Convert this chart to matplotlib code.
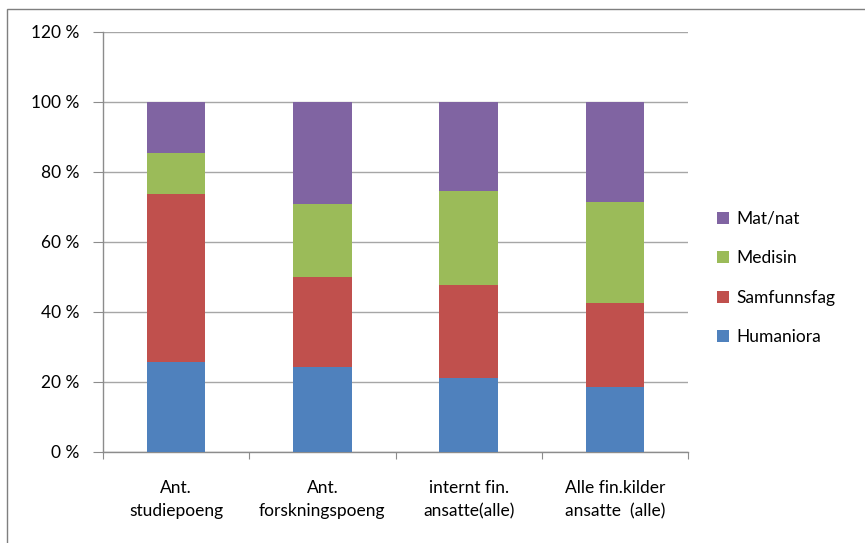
import matplotlib
matplotlib.use("Agg")
import matplotlib.pyplot as plt
from matplotlib.patches import Rectangle
from matplotlib.ticker import FuncFormatter
import numpy as np

categories = ["Ant.\nstudiepoeng", "Ant.\nforskningspoeng", "internt fin.\nansatte(alle)", "Alle fin.kilder\nansatte  (alle)"]
humaniora = [25.8, 24.4, 21.2, 18.5]
samfunnsfag = [47.9, 25.6, 26.5, 24.2]
medisin = [11.6, 20.9, 27.0, 28.6]
matnat = [14.7, 29.1, 25.3, 28.7]
series_names = ["Humaniora", "Samfunnsfag", "Medisin", "Mat/nat"]
colors = ["#4F81BD", "#C0504D", "#9BBB59", "#8064A2"]

plt.rcParams['font.family'] = ['Lato', 'DejaVu Sans']
FS = 12.5

W, H = 865, 543
fig = plt.figure(figsize=(W / 100, H / 100), dpi=100)
fig.patch.set_facecolor("white")

# outer chart border
fig.add_artist(Rectangle((7 / W, -0.05), 1.2, (H - 9) / H + 0.05, transform=fig.transFigure,
                         fill=False, edgecolor="#7F7F7F", linewidth=1.0))

left, right, top, bottom = 103, 688, 32, 452
ax = fig.add_axes([left / W, (H - bottom) / H, (right - left) / W, (bottom - top) / H])

x = np.arange(len(categories))
data = [humaniora, samfunnsfag, medisin, matnat]
base = np.zeros(len(categories))
handles = []
for vals, c, name in zip(data, colors, series_names):
    b = ax.bar(x, vals, width=0.4, bottom=base, color=c, label=name, zorder=3)
    handles.append(b)
    base += np.array(vals)

ax.set_xlim(-0.5, len(categories) - 0.5)
ax.set_ylim(0, 120)
ax.set_yticks(np.arange(0, 121, 20))
ax.yaxis.set_major_formatter(FuncFormatter(lambda v, p: f"{int(v)} %"))
ax.grid(axis="y", color="#A6A6A6", linewidth=1.0, zorder=0)
ax.set_axisbelow(True)

ax.set_xticks(np.arange(-0.5, len(categories), 1.0))
ax.set_xticklabels([])
ax.set_xticks(x, minor=True)
ax.set_xticklabels(categories, minor=True, fontsize=FS, color="#000000", linespacing=1.55)
ax.tick_params(axis="x", which="minor", length=0, pad=20)
ax.tick_params(axis="x", which="major", length=5, color="#8C8C8C", direction="out")
ax.tick_params(axis="y", length=7, color="#8C8C8C", direction="out", labelsize=FS, pad=10)

for s in ["top", "right"]:
    ax.spines[s].set_visible(False)
for s in ["left", "bottom"]:
    ax.spines[s].set_color("#8C8C8C")
    ax.spines[s].set_linewidth(1.0)

leg = fig.legend(handles[::-1], series_names[::-1], loc="upper left",
                 bbox_to_anchor=(710 / W, 1 - 204 / H), frameon=False,
                 fontsize=FS, handlelength=0.7, handleheight=0.7, handletextpad=0.4,
                 labelspacing=1.35, borderaxespad=0)

fig.savefig("out.png", dpi=100, facecolor="white")
